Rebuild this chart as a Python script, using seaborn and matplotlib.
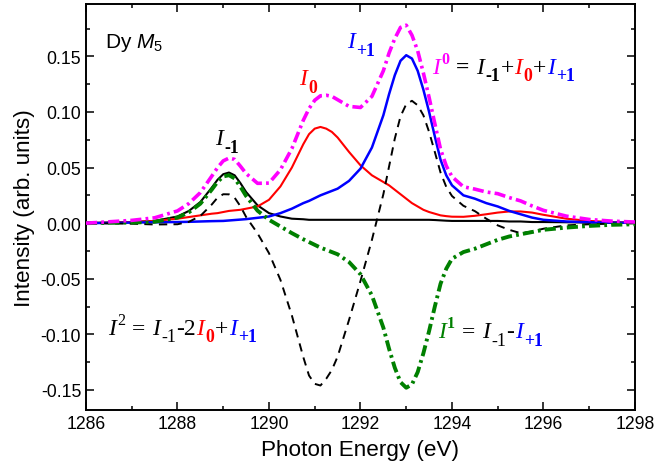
import numpy as np
import pandas as pd
import matplotlib
matplotlib.use("Agg")
import matplotlib.pyplot as plt
import matplotlib.transforms as mtransforms
from matplotlib.ticker import MultipleLocator, FormatStrFormatter
import seaborn as sns

# ---------------- data ----------------
energy = [1286.0, 1286.5, 1287.0, 1287.5, 1288.0, 1288.25, 1288.5, 1288.75,
          1288.875, 1289.0, 1289.125, 1289.25, 1289.375, 1289.5,
          1289.75, 1290.0, 1290.25, 1290.5, 1290.75,
          1290.875, 1291.0, 1291.125, 1291.25, 1291.375, 1291.5,
          1291.75, 1292.0, 1292.25, 1292.5,
          1292.625, 1292.75, 1292.875, 1293.0, 1293.125, 1293.25, 1293.375,
          1293.5, 1293.625, 1293.75, 1293.875,
          1294.0, 1294.25, 1294.5, 1294.75, 1295.0, 1295.25, 1295.5, 1295.75,
          1296.0, 1296.5, 1297.0, 1297.5, 1298.0]

i_minus1 = [0.000, 0.0005, 0.001, 0.002, 0.006, 0.011, 0.019, 0.032,
            0.039, 0.044, 0.0455, 0.043, 0.036, 0.028,
            0.016, 0.009, 0.006, 0.004, 0.0035,
            0.003, 0.003, 0.003, 0.003, 0.003, 0.003,
            0.003, 0.003, 0.003, 0.003,
            0.003, 0.003, 0.003, 0.003, 0.003, 0.003, 0.003,
            0.003, 0.0028, 0.0025, 0.0022,
            0.002, 0.002, 0.002, 0.002, 0.002, 0.0015, 0.0015, 0.001,
            0.001, 0.0008, 0.0005, 0.0003, 0.0002]

i_zero = [0.000, 0.0005, 0.001, 0.002, 0.004, 0.0055, 0.007, 0.0085,
          0.009, 0.010, 0.011, 0.0115, 0.012, 0.013,
          0.015, 0.021, 0.033, 0.050, 0.071,
          0.080, 0.085, 0.0865, 0.085, 0.082, 0.077,
          0.064, 0.052, 0.043, 0.037,
          0.034, 0.030, 0.026, 0.022, 0.018, 0.015, 0.012,
          0.010, 0.0085, 0.007, 0.0063,
          0.0058, 0.0057, 0.0066, 0.008, 0.0095, 0.0105, 0.0105, 0.0095,
          0.0075, 0.004, 0.002, 0.001, 0.0005]

i_plus1 = [0.000, 0.0002, 0.0005, 0.0008, 0.001, 0.0012, 0.0015, 0.0018,
           0.0019, 0.002, 0.0024, 0.0028, 0.0032, 0.0036,
           0.0048, 0.006, 0.009, 0.013, 0.018,
           0.020, 0.0225, 0.025, 0.027, 0.029, 0.031,
           0.038, 0.049, 0.068, 0.097,
           0.116, 0.133, 0.146, 0.151, 0.148, 0.137, 0.120,
           0.100, 0.078, 0.057, 0.043,
           0.034, 0.025, 0.022, 0.018, 0.015, 0.011, 0.008, 0.005,
           0.003, 0.0015, 0.0008, 0.0005, 0.0003]

iso_sum = [0.000, 0.0012, 0.0025, 0.0048, 0.011, 0.0177, 0.0275, 0.0423,
           0.0499, 0.056, 0.0585, 0.0573, 0.0512, 0.0446,
           0.0358, 0.036, 0.048, 0.067, 0.0925,
           0.103, 0.1105, 0.1145, 0.115, 0.114, 0.111,
           0.105, 0.104, 0.114, 0.137,
           0.153, 0.166, 0.176, 0.178, 0.169, 0.155, 0.135,
           0.113, 0.0895, 0.0665, 0.0515,
           0.0418, 0.0327, 0.0306, 0.028, 0.0265, 0.023, 0.020, 0.0155,
           0.0115, 0.0063, 0.0033, 0.0018, 0.001]

dichroic = [0.000, 0.0003, 0.0005, 0.0012, 0.005, 0.0098, 0.0175, 0.0302,
            0.0371, 0.042, 0.0431, 0.0402, 0.0328, 0.0244,
            0.0112, 0.003, -0.003, -0.009, -0.0145,
            -0.017, -0.0195, -0.022, -0.024, -0.026, -0.028,
            -0.035, -0.046, -0.065, -0.094,
            -0.113, -0.130, -0.143, -0.148, -0.145, -0.134, -0.117,
            -0.097, -0.075, -0.0545, -0.041,
            -0.032, -0.026, -0.023, -0.019, -0.015, -0.012, -0.010, -0.008,
            -0.006, -0.004, -0.0025, -0.0015, -0.001]

linear = [0.000, -0.0003, -0.0005, -0.0012, -0.001, 0.0012, 0.0065, 0.0168,
          0.0229, 0.026, 0.0259, 0.0228, 0.0152, 0.0056,
          -0.0092, -0.027, -0.051, -0.083, -0.1205,
          -0.137, -0.1445, -0.146, -0.140, -0.132, -0.120,
          -0.087, -0.052, -0.015, 0.026,
          0.051, 0.076, 0.096, 0.107, 0.110, 0.106, 0.097,
          0.082, 0.064, 0.0455, 0.0326,
          0.0244, 0.0156, 0.0108, 0.004, -0.002, -0.006, -0.009, -0.0075,
          -0.005, -0.002, -0.001, -0.0005, -0.0002]

# ---------------- style ----------------
sns.set_theme(style="ticks")
plt.rcParams["font.family"] = ["Liberation Sans", "DejaVu Sans"]
plt.rcParams["axes.unicode_minus"] = False
plt.rcParams["mathtext.fontset"] = "custom"
plt.rcParams["mathtext.rm"] = "Liberation Sans"
plt.rcParams["mathtext.it"] = "Liberation Sans:italic"
plt.rcParams["mathtext.bf"] = "Liberation Sans:bold"
plt.rcParams["lines.scale_dashes"] = False

MAG, RED, BLUE, GREEN, BLACK = "#ff00ff", "#ff0000", "#0000ff", "#008000", "#000000"

fig = plt.figure(figsize=(6.54, 4.77), dpi=100)
ax = fig.add_axes([0.1315, 0.1384, 0.8394, 0.851])

df = pd.DataFrame({"E": energy, "m1": i_minus1, "z": i_zero, "p1": i_plus1,
                   "I0": iso_sum, "I1": dichroic, "I2": linear})

sns.lineplot(data=df, x="E", y="m1", ax=ax, color=BLACK, lw=1.5, zorder=3)
sns.lineplot(data=df, x="E", y="z", ax=ax, color=RED, lw=1.5, zorder=3)
sns.lineplot(data=df, x="E", y="p1", ax=ax, color=BLUE, lw=1.8, zorder=3)
sns.lineplot(data=df, x="E", y="I2", ax=ax, color=BLACK, lw=1.4,
             linestyle=(0, (6, 4.5)), zorder=4)
sns.lineplot(data=df, x="E", y="I1", ax=ax, color=GREEN, lw=2.8,
             linestyle=(0, (8, 3, 2, 3)), zorder=4)
sns.lineplot(data=df, x="E", y="I0", ax=ax, color=MAG, lw=2.6,
             linestyle=(0, (8, 3, 2, 3)), zorder=5)

ax.set_xlim(1286, 1298)
ax.set_ylim(-0.168, 0.197)
ax.xaxis.set_major_locator(MultipleLocator(2))
ax.xaxis.set_minor_locator(MultipleLocator(1))
ax.yaxis.set_major_locator(MultipleLocator(0.05))
ax.yaxis.set_minor_locator(MultipleLocator(0.025))
ax.yaxis.set_major_formatter(FormatStrFormatter("%.2f"))
ax.tick_params(which="both", direction="in", top=True, right=True,
               colors=BLACK, width=1.1, labelsize=12.7)
ax.tick_params(which="major", length=5.5)
ax.tick_params(which="minor", length=3)
for s in ax.spines.values():
    s.set_color(BLACK)
    s.set_linewidth(1.4)
ax.set_xlabel("Photon Energy (eV)", fontsize=16.2, color=BLACK, labelpad=5)
ax.set_ylabel("Intensity (arb. units)", fontsize=16.2, color=BLACK, labelpad=4)

ax.text(1286.415, 0.158, r"Dy $M_5$", fontsize=15, color=BLACK)

# ---------------- rich text helper ----------------
SERIF = ["Liberation Serif", "DejaVu Serif"]
renderer = fig.canvas.get_renderer()


def rich(x, y, pieces, size=17.0):
    off = 0.0
    for s, color, kind in pieces:
        if kind == "gap":
            off += s
            continue
        fs, dy, style, weight = size, 0.0, "normal", "normal"
        if kind == "i":
            style = "italic"
        elif kind == "b":
            weight = "bold"
        elif kind in ("sub", "subr"):
            fs, dy = size * 0.75, -size * 0.33
            weight = "bold" if kind == "sub" else "normal"
        elif kind in ("sup", "supr"):
            fs, dy = size * 0.68, size * 0.42
            weight = "bold" if kind == "sup" else "normal"
        tr = mtransforms.offset_copy(ax.transData, fig=fig, x=off, y=dy,
                                     units="points")
        t = ax.text(x, y, s, transform=tr, fontsize=fs, color=color,
                    family=SERIF, style=style, weight=weight, zorder=6)
        w = t.get_window_extent(renderer).width * 72.0 / fig.dpi
        off += w + (1.0 if kind == "i" else 0.3)


rich(1288.82, 0.071, [("I", BLACK, "i"), ("-1", BLACK, "sub")])
rich(1290.66, 0.125, [("I", RED, "i"), ("0", RED, "sub")])
rich(1291.70, 0.158, [("I", BLUE, "i"), ("+1", BLUE, "sub")])

rich(1293.57, 0.1354, [("I", MAG, "i"), ("0", MAG, "sup"), (4.5, None, "gap"),
                       ("=", BLACK, "b"), (4.5, None, "gap"),
                       ("I", BLACK, "i"), ("-1", BLACK, "sub"), ("+", BLACK, "r"),
                       ("I", RED, "i"), ("0", RED, "sub"), ("+", BLACK, "r"),
                       ("I", BLUE, "i"), ("+1", BLUE, "sub")])

rich(1286.48, -0.0994, [("I", BLACK, "i"), ("2", BLACK, "supr"), (4.5, None, "gap"),
                        ("=", BLACK, "r"), (4.5, None, "gap"),
                        ("I", BLACK, "i"), ("-1", BLACK, "subr"), ("-2", BLACK, "r"),
                        ("I", RED, "i"), ("0", RED, "sub"), ("+", BLACK, "r"),
                        ("I", BLUE, "i"), ("+1", BLUE, "sub")])

rich(1293.69, -0.1024, [("I", GREEN, "i"), ("1", GREEN, "sup"), (4.5, None, "gap"),
                        ("=", BLACK, "r"), (4.5, None, "gap"),
                        ("I", BLACK, "i"), ("-1", BLACK, "subr"), ("-", BLACK, "r"),
                        ("I", BLUE, "i"), ("+1", BLUE, "sub")])

fig.savefig("out.png", dpi=100)
